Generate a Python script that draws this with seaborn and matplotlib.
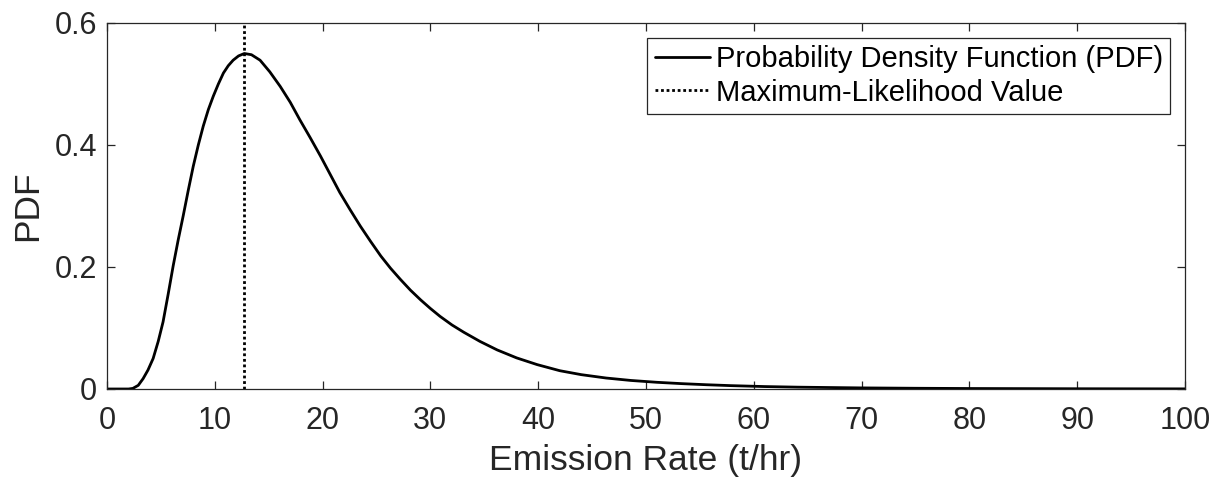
import matplotlib
matplotlib.use("Agg")
import matplotlib.pyplot as plt
import seaborn as sns
import pandas as pd

# Values
emission_rate = [0, 2.0, 2.4, 2.9, 3.35, 3.8, 4.28, 4.75, 5.2, 5.67, 6.14, 6.6,
                 7.07, 7.53, 8.0, 8.47, 8.93, 9.4, 9.86, 10.33, 10.8, 11.25,
                 11.7, 12.2, 12.74, 13.4, 14.2, 15.1, 16.07, 17.0, 17.9, 18.85,
                 19.8, 20.7, 21.6, 22.55, 23.5, 24.45, 25.4, 26.3, 27.2, 28.15,
                 29.1, 30.0, 30.9, 32.0, 33.1, 34.6, 36.2, 38.0, 39.9, 42.0,
                 44.0, 46.3, 48.6, 51.0, 53.3, 55.6, 57.9, 61.0, 64.1, 70, 75,
                 80, 90, 100]
pdf_values = [0, 0, 0.001, 0.006, 0.017, 0.031, 0.050, 0.078, 0.110, 0.155,
              0.202, 0.244, 0.284, 0.325, 0.365, 0.400, 0.431, 0.458, 0.480,
              0.500, 0.518, 0.530, 0.539, 0.546, 0.550, 0.548, 0.539, 0.520,
              0.496, 0.470, 0.441, 0.412, 0.382, 0.352, 0.322, 0.294, 0.267,
              0.242, 0.218, 0.198, 0.180, 0.162, 0.146, 0.132, 0.119, 0.105,
              0.093, 0.078, 0.064, 0.051, 0.040, 0.030, 0.0235, 0.018, 0.014,
              0.011, 0.0088, 0.007, 0.0055, 0.004, 0.003, 0.0018, 0.0012,
              0.0008, 0.0004, 0.0002]
ml_value = 12.74

x_ticks = [0, 10, 20, 30, 40, 50, 60, 70, 80, 90, 100]
y_ticks = [0, 0.2, 0.4, 0.6]
y_tick_labels = ["0", "0.2", "0.4", "0.6"]

sns.set_theme(style="white")
plt.rcParams['font.family'] = ['Liberation Sans', 'DejaVu Sans']

df = pd.DataFrame({"Emission Rate": emission_rate, "PDF": pdf_values})

fig = plt.figure(figsize=(12.23, 4.82), dpi=100)
ax = fig.add_axes([107/1223, 1 - 389/482, (1185-107)/1223, (389-23)/482])

sns.lineplot(data=df, x="Emission Rate", y="PDF", ax=ax, color="black",
             linewidth=2.0, label="Probability Density Function (PDF)")
ax.axvline(ml_value, color="black", linestyle=(0, (1, 1)), linewidth=2.0,
           label="Maximum-Likelihood Value")

ax.set_xlim(0, 100)
ax.set_ylim(0, 0.6)
ax.set_xticks(x_ticks)
ax.set_xticklabels([str(t) for t in x_ticks])
ax.set_yticks(y_ticks)
ax.set_yticklabels(y_tick_labels)

axis_col = "#262626"
for s in ax.spines.values():
    s.set_visible(True)
    s.set_color(axis_col)
    s.set_linewidth(0.9)

ax.tick_params(axis="both", which="major", direction="in", length=6, width=0.9,
               colors=axis_col, labelsize=22, top=True, right=True,
               bottom=True, left=True)
ax.tick_params(axis="x", pad=12)
ax.tick_params(axis="y", pad=7)
for lbl in ax.get_xticklabels() + ax.get_yticklabels():
    lbl.set_color(axis_col)

ax.set_xlabel("Emission Rate (t/hr)", fontsize=25.5, color=axis_col, labelpad=6)
ax.set_ylabel("PDF", fontsize=25.5, color=axis_col, labelpad=8)

leg = ax.legend(loc="upper right", fontsize=21, frameon=True, fancybox=False,
                framealpha=1, edgecolor=axis_col, handlelength=1.9,
                handletextpad=0.2, borderpad=0.25, labelspacing=0.2,
                borderaxespad=0.5)
leg.get_frame().set_linewidth(0.9)
for t in leg.get_texts():
    t.set_color("black")

fig.savefig("out.png", dpi=100)
